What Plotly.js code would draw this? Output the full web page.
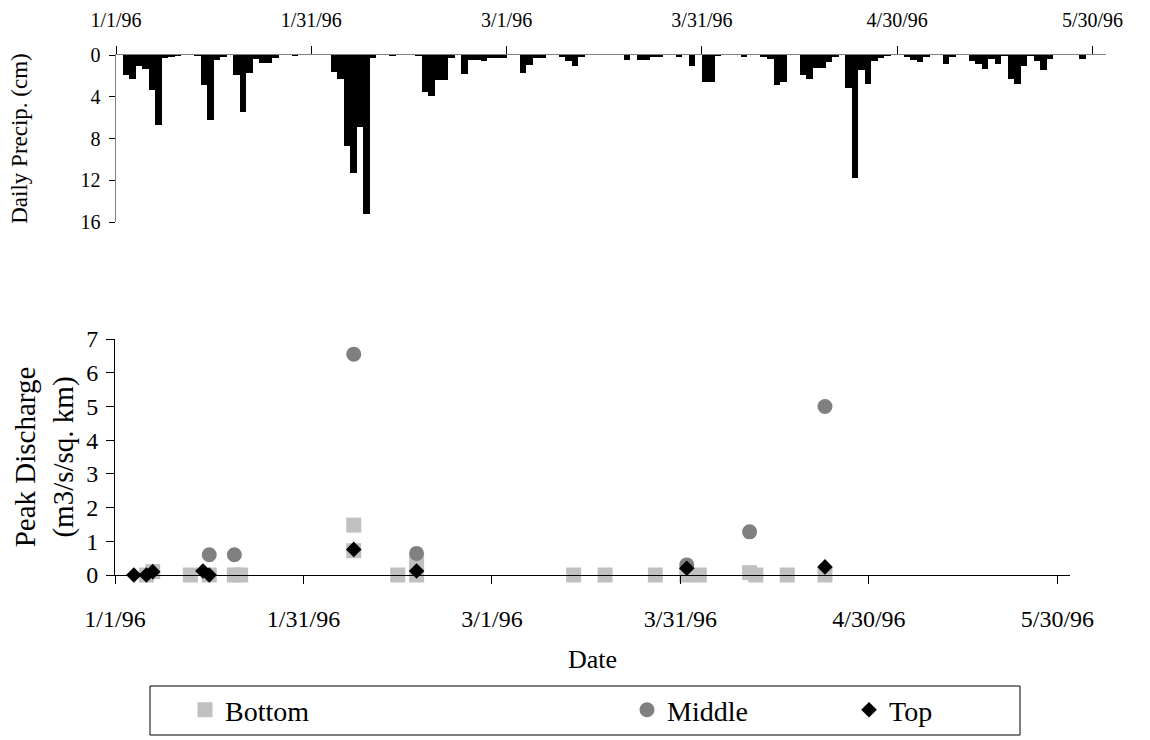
<!DOCTYPE html>
<html>
<head>
<meta charset="utf-8">
<script src="https://cdn.plot.ly/plotly-3.0.1.min.js"></script>
<style>
html,body{margin:0;padding:0;background:#fff;}
#chart{width:1150px;height:740px;}
</style>
</head>
<body>
<div id="chart"></div>
<script>
// ---- Daily precipitation (cm) ----
const precipDates = [
  '1996-01-02','1996-01-03','1996-01-04','1996-01-05','1996-01-06','1996-01-07','1996-01-08','1996-01-09','1996-01-10',
  '1996-01-13','1996-01-14','1996-01-15','1996-01-16','1996-01-17','1996-01-19','1996-01-20','1996-01-21','1996-01-22',
  '1996-01-23','1996-01-24','1996-01-25','1996-01-28',
  '1996-02-03','1996-02-04','1996-02-05','1996-02-06','1996-02-07','1996-02-08','1996-02-09','1996-02-12','1996-02-16',
  '1996-02-17','1996-02-18','1996-02-19','1996-02-20','1996-02-21','1996-02-23','1996-02-24','1996-02-25','1996-02-26',
  '1996-02-27','1996-02-28','1996-02-29',
  '1996-03-03','1996-03-04','1996-03-05','1996-03-06','1996-03-09','1996-03-10','1996-03-11','1996-03-12','1996-03-19',
  '1996-03-21','1996-03-22','1996-03-23','1996-03-24','1996-03-27','1996-03-29','1996-03-31',
  '1996-04-01','1996-04-02','1996-04-06','1996-04-09','1996-04-10','1996-04-11','1996-04-12','1996-04-15','1996-04-16',
  '1996-04-17','1996-04-18','1996-04-19','1996-04-20','1996-04-22','1996-04-23','1996-04-24','1996-04-25','1996-04-26',
  '1996-04-27','1996-04-28',
  '1996-05-01','1996-05-02','1996-05-03','1996-05-04','1996-05-07','1996-05-08','1996-05-11','1996-05-12','1996-05-13',
  '1996-05-14','1996-05-15','1996-05-16','1996-05-17','1996-05-18','1996-05-19','1996-05-20','1996-05-21','1996-05-22',
  '1996-05-23','1996-05-28'
];
const precipCm = [
  1.9,2.3,1.1,1.3,3.4,6.7,0.3,0.2,0.1,
  0.1,2.9,6.2,0.5,0.2,1.9,5.5,1.7,0.4,
  0.8,0.8,0.3,0.1,
  1.6,2.3,8.7,11.3,6.9,15.2,0.3,0.1,0.1,
  3.5,3.9,2.4,2.4,0.3,1.8,0.5,0.5,0.6,
  0.3,0.3,0.3,
  1.7,0.95,0.3,0.3,0.2,0.6,1.05,0.2,0.5,
  0.5,0.5,0.2,0.2,0.2,1.05,2.6,
  2.6,0.1,0.2,0.2,0.4,2.9,2.6,1.9,2.3,
  1.2,1.2,0.7,0.2,3.2,11.8,1.4,2.8,0.6,
  0.3,0.1,
  0.2,0.5,0.7,0.2,0.86,0.2,0.6,0.85,1.3,
  0.4,0.85,0.1,2.3,2.8,1.05,0.1,0.6,1.4,
  0.4,0.4
];

// ---- Peak discharge (m3/s/sq. km) ----
const bottomDates = ['1996-01-06','1996-01-07','1996-01-13','1996-01-16','1996-01-20','1996-01-21','1996-02-08','1996-02-08',
  '1996-02-15','1996-02-18','1996-02-18','1996-03-14','1996-03-19','1996-03-27','1996-04-01','1996-04-03','1996-04-11',
  '1996-04-12','1996-04-17','1996-04-23'];
const bottomVals = [0,0.1,0,0,0,0,1.48,0.72,0,0.35,0,0,0,0,0,0,0.07,0,0,0];

const middleDates = ['1996-01-16','1996-01-20','1996-02-08','1996-02-18','1996-04-01','1996-04-11','1996-04-23'];
const middleVals = [0.6,0.6,6.55,0.64,0.3,1.28,5.0];

const topDates = ['1996-01-04','1996-01-06','1996-01-07','1996-01-15','1996-01-16','1996-02-08','1996-02-18','1996-04-01','1996-04-23'];
const topVals = [0,0,0.1,0.12,0,0.76,0.12,0.2,0.24];

const xTickLabelFmt = '%-m/%-d/%y';

const W = 1150, H = 740;
const px = v => v / W;
const py = v => (H - v) / H;

const FONT = 'Liberation Serif, Times New Roman, serif';
const DAY = 86400000;

const traces = [
  {
    type: 'bar', x: precipDates, y: precipCm, xaxis: 'x2', yaxis: 'y2',
    xperiod: DAY, xperiodalignment: 'middle',
    marker: {color: '#000000', line: {width: 0}},
    showlegend: false, cliponaxis: false, hoverinfo: 'x+y'
  },
  {
    type: 'scatter', mode: 'markers', name: 'Bottom', x: bottomDates, y: bottomVals,
    xaxis: 'x', yaxis: 'y', cliponaxis: false, legend: 'legend',
    marker: {symbol: 'square', size: 15, color: '#c0c0c0'}
  },
  {
    type: 'scatter', mode: 'markers', name: 'Middle', x: middleDates, y: middleVals,
    xaxis: 'x', yaxis: 'y', cliponaxis: false, legend: 'legend2',
    marker: {symbol: 'circle', size: 15, color: '#808080'}
  },
  {
    type: 'scatter', mode: 'markers', name: 'Top', x: topDates, y: topVals,
    xaxis: 'x', yaxis: 'y', cliponaxis: false, legend: 'legend3',
    marker: {symbol: 'diamond', size: 12, color: '#000000'}
  }
];

const xRange = ['1996-01-01', '1996-06-01'];
const topDom = [px(116), px(1105.5)];
const botDom = [px(115), px(1070)];
const legendBase = {
  orientation: 'h', yanchor: 'middle', xanchor: 'left', y: py(710),
  bgcolor: 'rgba(0,0,0,0)', borderwidth: 0,
  font: {family: FONT, size: 28, color: '#000'}
};

const layout = {
  width: W, height: H,
  margin: {l: 0, r: 0, t: 0, b: 0},
  paper_bgcolor: '#fff', plot_bgcolor: 'rgba(0,0,0,0)',
  font: {family: FONT, color: '#000'},
  bargap: 0,
  // bottom scatter
  xaxis: {
    domain: botDom, anchor: 'y', type: 'date', range: xRange,
    tick0: '1996-01-01', dtick: 30 * DAY, tickformat: xTickLabelFmt,
    ticks: 'outside', ticklen: 8, tickwidth: 1, tickcolor: '#000',
    showline: true, linecolor: '#000', linewidth: 1, showgrid: false, zeroline: false,
    tickfont: {family: FONT, size: 24, color: '#000'}, ticklabelstandoff: 14,
    title: {text: 'Date', font: {family: FONT, size: 26, color: '#000'}, standoff: 19}
  },
  yaxis: {
    domain: [py(575), py(339)], anchor: 'x', range: [0, 7], dtick: 1,
    ticks: 'outside', ticklen: 8, tickwidth: 1, tickcolor: '#000',
    showline: true, linecolor: '#000', linewidth: 1, showgrid: false, zeroline: false,
    tickfont: {family: FONT, size: 24, color: '#000'}, ticklabelstandoff: 3,
    title: {text: 'Peak Discharge<br>(m3/s/sq. km)', font: {family: FONT, size: 29, color: '#000'}, standoff: 4}
  },
  // top bars
  xaxis2: {
    domain: topDom, anchor: 'y2', side: 'top', type: 'date', range: xRange,
    tick0: '1996-01-01', dtick: 30 * DAY, tickformat: xTickLabelFmt,
    ticks: 'outside', ticklen: 8, tickwidth: 1, tickcolor: '#000',
    showline: true, linecolor: '#808080', linewidth: 1.5, showgrid: false, zeroline: false,
    tickfont: {family: FONT, size: 20, color: '#000'}, ticklabelstandoff: 11
  },
  yaxis2: {
    domain: [py(222), py(55)], anchor: 'x2', range: [16, 0], dtick: 4,
    ticks: 'outside', ticklen: 6, tickwidth: 1, tickcolor: '#000',
    showline: true, linecolor: '#808080', linewidth: 1.5, showgrid: false, zeroline: false,
    tickfont: {family: FONT, size: 20, color: '#000'}, ticklabelstandoff: 4,
    title: {text: 'Daily Precip. (cm)', font: {family: FONT, size: 23, color: '#000'}, standoff: 46}
  },
  // inner halves of the cross tick marks on the top chart
  xaxis3: {
    domain: topDom, anchor: 'y2', overlaying: 'x2', side: 'top', type: 'date', range: xRange,
    tick0: '1996-01-01', dtick: 30 * DAY, ticks: 'inside', ticklen: 8, tickcolor: '#000',
    showticklabels: false, showline: false, showgrid: false, zeroline: false
  },
  yaxis3: {
    domain: [py(222), py(55)], anchor: 'x2', overlaying: 'y2', side: 'left', range: [16, 0], dtick: 4,
    ticks: 'inside', ticklen: 7, tickcolor: '#000',
    showticklabels: false, showline: false, showgrid: false, zeroline: false
  },
  legend: Object.assign({}, legendBase, {x: px(185)}),
  legend2: Object.assign({}, legendBase, {x: px(627)}),
  legend3: Object.assign({}, legendBase, {x: px(849)}),
  shapes: [
    {type: 'rect', xref: 'paper', yref: 'paper', x0: px(150), x1: px(1020), y0: py(735), y1: py(686),
     line: {color: '#000', width: 1}, fillcolor: 'rgba(0,0,0,0)', layer: 'below'}
  ]
};

Plotly.newPlot('chart', traces, layout, {displayModeBar: false, staticPlot: true});
</script>
</body>
</html>
